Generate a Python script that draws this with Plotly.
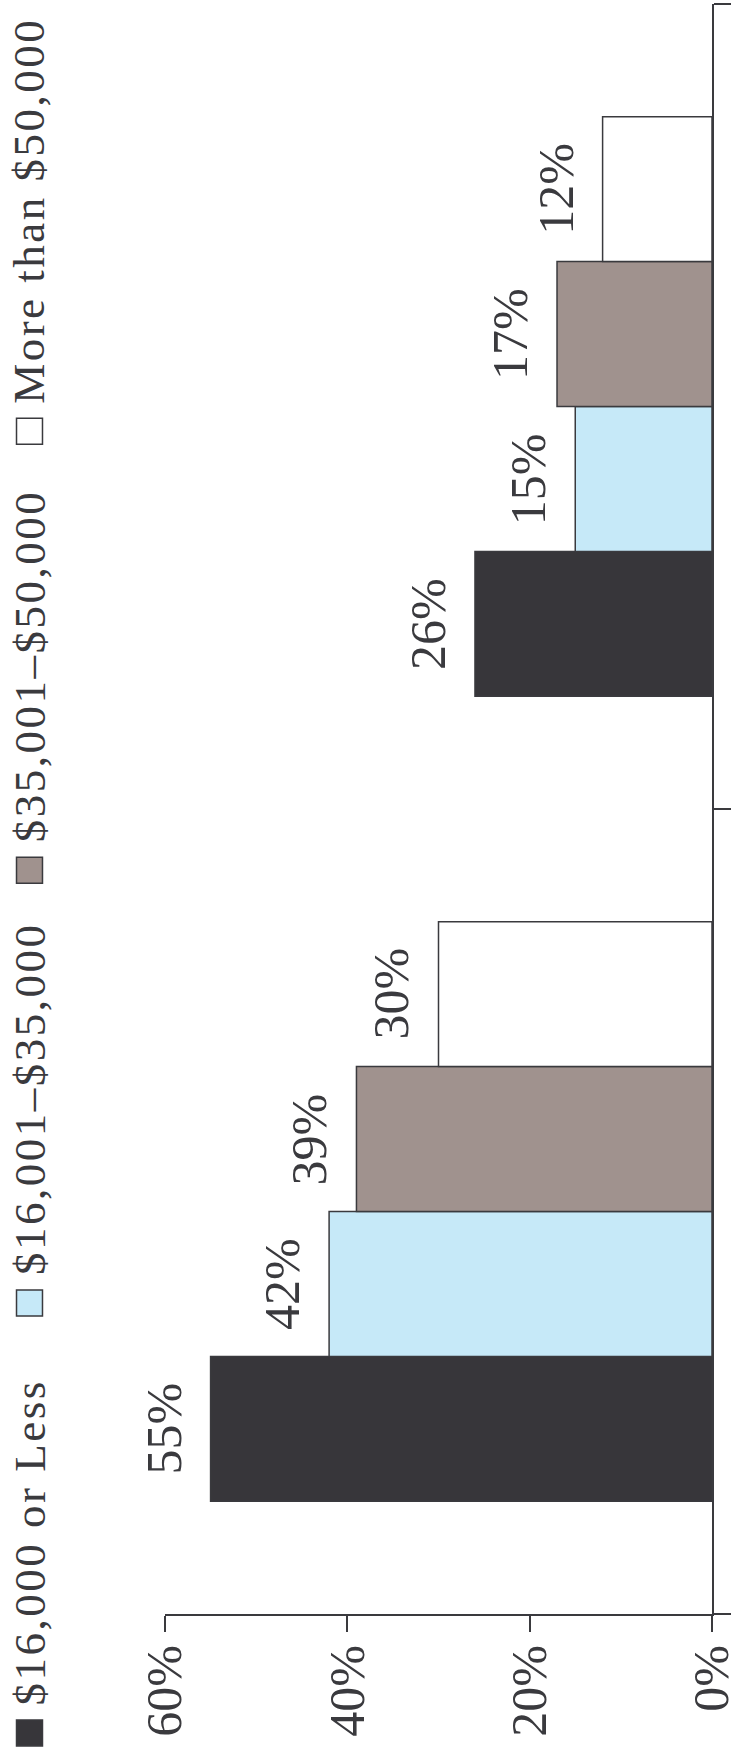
import plotly.graph_objects as go

# ---- data ----
categories = ["Group A", "Group B"]
series_names = ["$16,000 or Less", "$16,001–$35,000", "$35,001–$50,000", "More than $50,000"]
values_low = [55, 26]
values_mid = [42, 15]
values_upper = [39, 17]
values_high = [30, 12]
tick_values = [0, 20, 40, 60]
tick_labels = ["0%", "20%", "40%", "60%"]

series_values = [values_low, values_mid, values_upper, values_high]
colors = ["#37363a", "#c6e9f8", "#a0928e", "#ffffff"]

INK = "#3a3a3e"
FONT = "Liberation Serif"

W, H = 731, 1756
L, R, T, B = 164.6, 19, 3.5, 142
PW, PH = W - L - R, H - T - B
BARGAP = 0.28


def px_x(p):
    return (p - L) / PW


def px_y(p):
    return (H - B - p) / PH


fig = go.Figure()
for name, vals, col in zip(series_names, series_values, colors):
    fig.add_trace(go.Bar(
        y=categories, x=vals, name=name, orientation="h",
        marker=dict(color=col, line=dict(color=INK, width=1.5)),
        showlegend=False, hoverinfo="x+name",
    ))

# invisible trace so the label-only overlay axis is drawn
fig.add_trace(go.Scatter(x=tick_values, y=[categories[0]] * len(tick_values), xaxis="x2",
                         mode="markers", marker=dict(opacity=0), showlegend=False,
                         hoverinfo="skip"))

annotations = []
# value labels, placed at each bar's end through the axes
n = len(series_values)
thick = PH / len(categories) * (1 - BARGAP) / n
for i, vals in enumerate(series_values):
    for cat, v in zip(categories, vals):
        annotations.append(dict(
            x=v, y=cat, xref="x", yref="y", text=f"{v}%", textangle=-90,
            xanchor="right", yanchor="middle", xshift=-18, yshift=(i - (n - 1) / 2) * thick,
            showarrow=False, borderpad=0, font=dict(family=FONT, size=50, color=INK)))

# legend drawn rotated (the whole chart is rotated 90 degrees)
legend_sq_center = [1733, 1303, 870, 431]
shapes = []
for name, col, cy in zip(series_names, colors, legend_sq_center):
    shapes.append(dict(type="rect", xref="paper", yref="paper",
                       x0=px_x(16), x1=px_x(42), y0=px_y(cy + 13), y1=px_y(cy - 13),
                       fillcolor=col, line=dict(color=INK, width=1.5)))
    annotations.append(dict(
        text=f'<span style="letter-spacing:2.5px">{name}</span>', textangle=-90,
        xref="paper", yref="paper", x=px_x(29), y=px_y(cy - 27),
        xanchor="center", yanchor="bottom", showarrow=False, borderpad=0,
        font=dict(family=FONT, size=45, color=INK)))

fig.update_layout(
    width=W, height=H,
    margin=dict(l=L, r=R, t=T, b=B, pad=0, autoexpand=False),
    paper_bgcolor="white", plot_bgcolor="white",
    barmode="group", bargap=BARGAP, bargroupgap=0,
    font=dict(family=FONT, color=INK),
    shapes=shapes, annotations=annotations,
    xaxis=dict(range=[60, 0], tickvals=tick_values, showticklabels=False, automargin=False,
               ticks="outside", ticklen=16, tickwidth=1.5, tickcolor=INK,
               showline=True, linecolor=INK, linewidth=1.5, showgrid=False, zeroline=False),
    xaxis2=dict(range=[60, 0], overlaying="x", anchor="y", side="bottom", automargin=False,
                tickvals=tick_values, ticktext=tick_labels, tickangle=-90, ticks="",
                ticklabelstandoff=20, ticklabeloverflow="allow",
                showline=False, showgrid=False, zeroline=False,
                tickfont=dict(family=FONT, size=50, color=INK)),
    yaxis=dict(categoryorder="array", categoryarray=categories, side="right", automargin=False,
               showticklabels=False, ticks="outside", ticklen=17, tickwidth=1.5, tickcolor=INK,
               tickson="boundaries", showline=True, linecolor=INK, linewidth=1.5,
               showgrid=False, zeroline=False),
)

fig.write_html("out.html", config={"displayModeBar": False},
               post_script="document.body.style.margin='0';")
